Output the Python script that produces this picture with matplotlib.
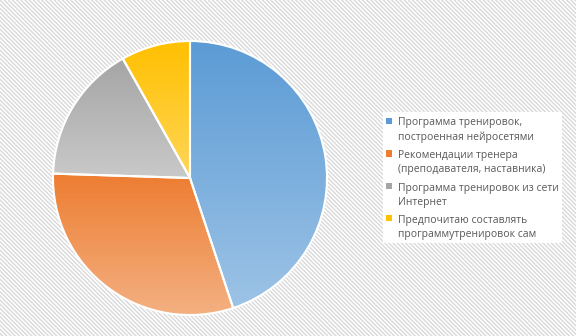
import numpy as np
import matplotlib.pyplot as plt
from matplotlib.patches import Rectangle
from matplotlib.colors import LinearSegmentedColormap

plt.rcParams['font.family'] = ['Open Sans', 'DejaVu Sans']
plt.rcParams['hatch.linewidth'] = 1.0

# data (counts)
labels = ['Программа тренировок,\nпостроенная нейросетями',
          'Рекомендации тренера\n(преподавателя, наставника)',
          'Программа тренировок из сети\nИнтернет',
          'Предпочитаю составлять\nпрограммутренировок сам']
values = [22, 15, 8, 4]
top_colors = ['#5b9bd5', '#ed7d31', '#a5a5a5', '#ffc000']
bottom_colors = ['#9dc3e6', '#f4b183', '#c9c9c9', '#ffd659']

W, H = 576, 336
fig = plt.figure(figsize=(W / 100, H / 100), dpi=100)

# hatched chart background
bg = Rectangle((0, 0), 1, 1, transform=fig.transFigure, facecolor='white',
               edgecolor='#d9d9d9', linewidth=0, hatch='\\' * 8, zorder=-10)
fig.patches.append(bg)

cx, cy, r = 190, H - 178, 137
pad = 1.03
ax = fig.add_axes([(cx - r * pad) / W, (cy - r * pad) / H, 2 * r * pad / W, 2 * r * pad / H])
wedges, _ = ax.pie(values, startangle=90, counterclock=False, radius=1,
                   wedgeprops=dict(facecolor='none', edgecolor='white', linewidth=1.5))
ax.set_aspect('equal')
ax.axis('off')

grad = np.linspace(0, 1, 256).reshape(-1, 1)
for w, c0, c1 in zip(wedges, top_colors, bottom_colors):
    path = w.get_patch_transform().transform_path(w.get_path())
    x0, y0 = path.vertices.min(axis=0)
    x1, y1 = path.vertices.max(axis=0)
    cmap = LinearSegmentedColormap.from_list('g', [c0, c1])
    im = ax.imshow(grad, cmap=cmap, extent=(x0, x1, y0, y1), origin='upper',
                   aspect='auto', zorder=1)
    im.set_clip_path(w)
    w.set_zorder(2)
ax.set_xlim(-pad, pad)
ax.set_ylim(-pad, pad)

# legend drawn by hand (Excel style: marker next to first line)
def px(x, y):
    return x / W, 1 - y / H

fig.patches.append(Rectangle(px(383, 243), 179 / W, 131 / H, transform=fig.transFigure,
                             facecolor='white', edgecolor='none', zorder=-5))
entry_y = [121, 153.5, 186, 218]
for lab, col, yy in zip(labels, top_colors, entry_y):
    fig.patches.append(Rectangle(px(386, yy + 3), 6 / W, 6 / H,
                                 transform=fig.transFigure, facecolor=col,
                                 edgecolor='none', zorder=3))
    fig.text(*px(398, yy - 3.5), lab, ha='left', va='top', fontsize=7.5,
             color='#595959', linespacing=1.38)

fig.savefig('out.png', dpi=100)
